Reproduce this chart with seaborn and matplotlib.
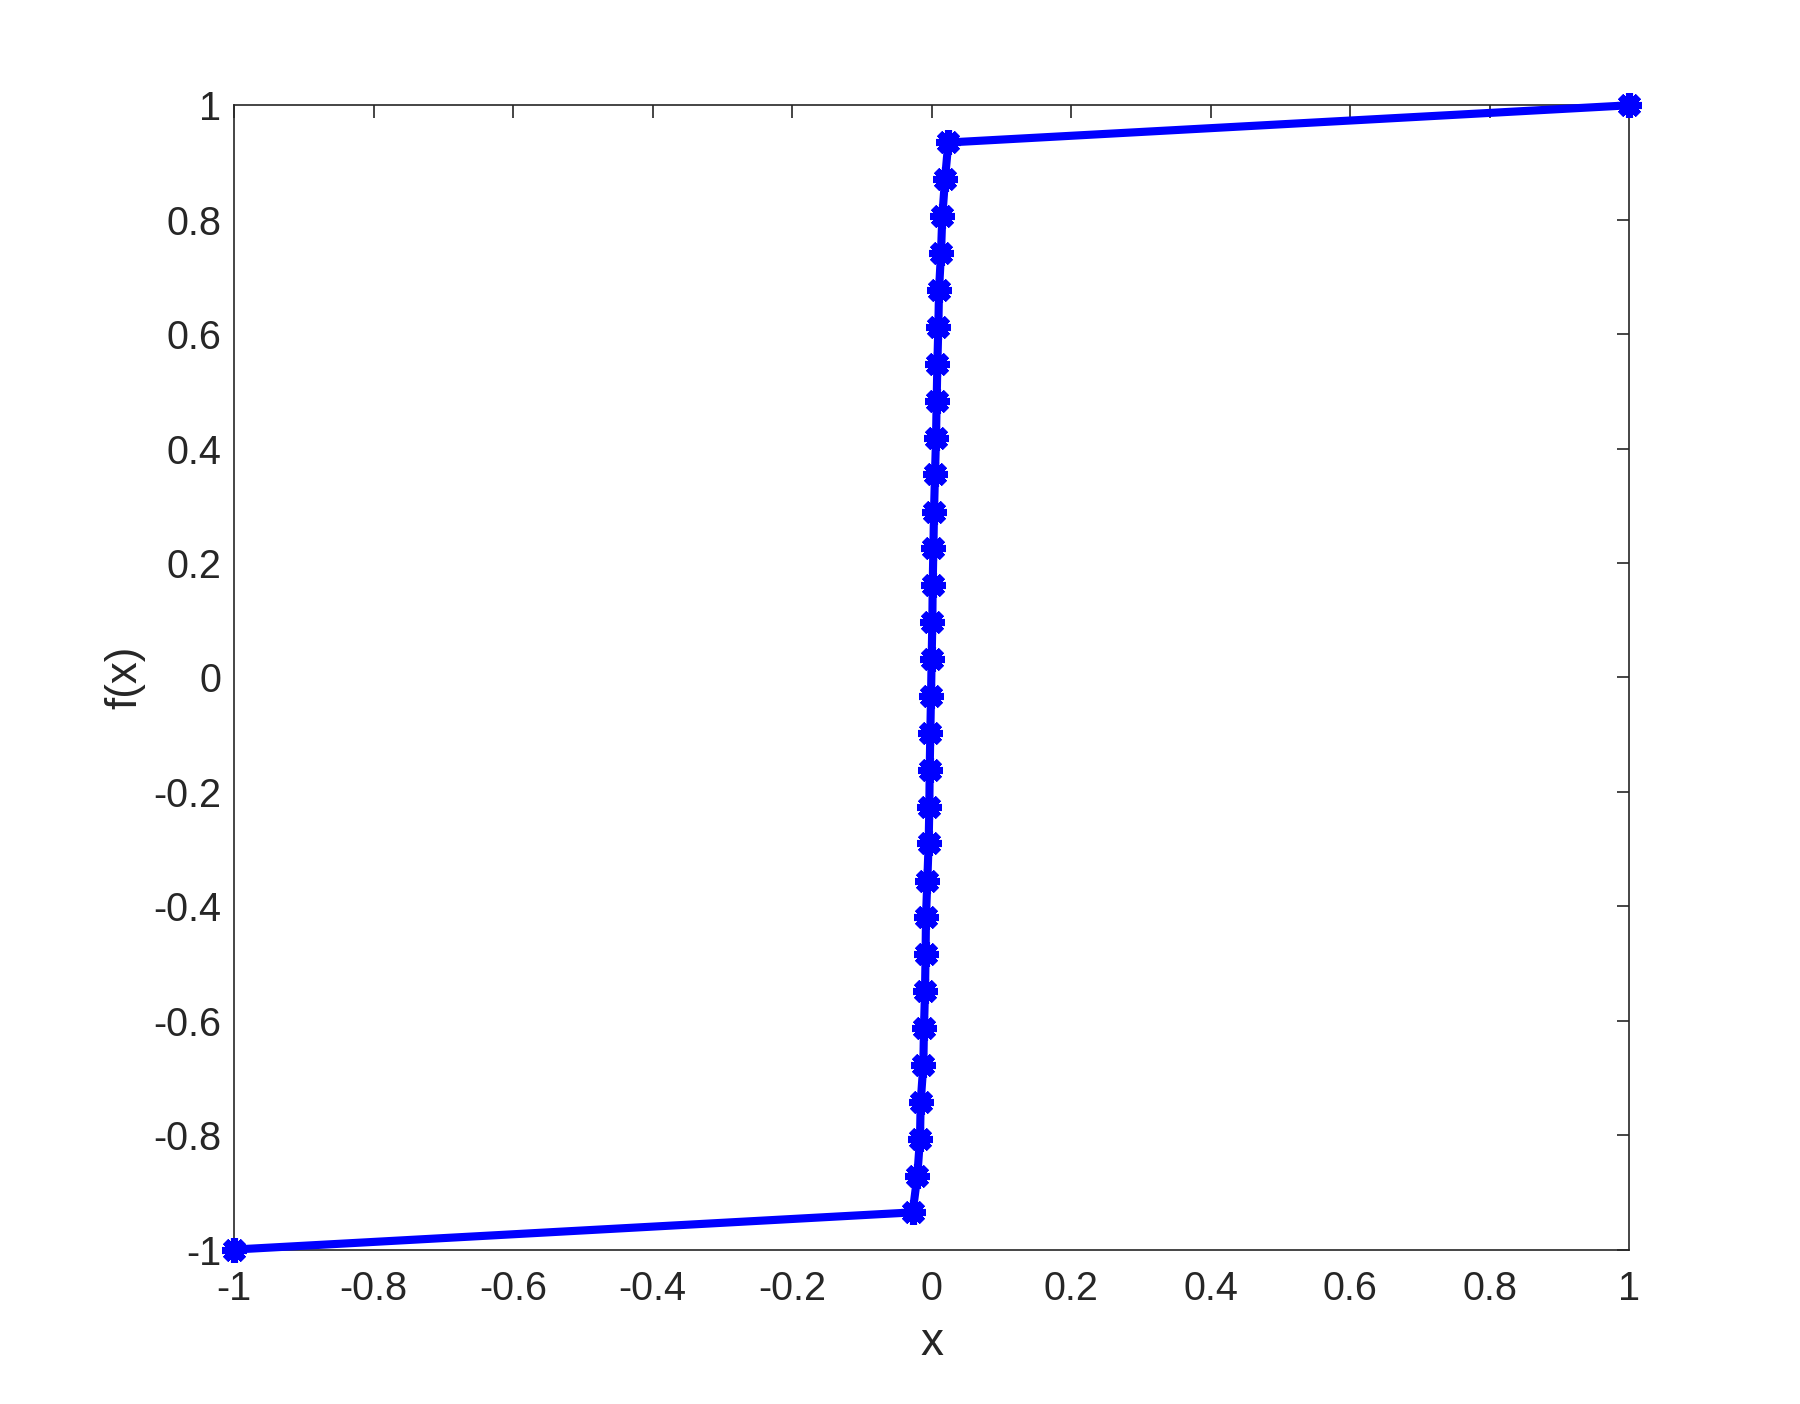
import numpy as np
import pandas as pd
import matplotlib
matplotlib.use("Agg")
import matplotlib.pyplot as plt
import seaborn as sns

# values (32 points)
x_vals = [-1.0, -0.0270, -0.0203, -0.0165, -0.0155, -0.0117, -0.0108, -0.0093,
          -0.0085, -0.0079, -0.0060, -0.0041, -0.0031, -0.0026, -0.0017, -0.0007,
          0.0002, 0.0012, 0.0017, 0.0027, 0.0036, 0.0050, 0.0065, 0.0074,
          0.0084, 0.0098, 0.0108, 0.0136, 0.0155, 0.0194, 0.0241, 1.0]
y_vals = [-1.0, -0.935, -0.871, -0.806, -0.742, -0.677, -0.613, -0.548,
          -0.484, -0.419, -0.355, -0.290, -0.226, -0.161, -0.097, -0.032,
          0.032, 0.097, 0.161, 0.226, 0.290, 0.355, 0.419, 0.484,
          0.548, 0.613, 0.677, 0.742, 0.806, 0.871, 0.935, 1.0]
x_ticks = [-1, -0.8, -0.6, -0.4, -0.2, 0, 0.2, 0.4, 0.6, 0.8, 1]
y_ticks = [-1, -0.8, -0.6, -0.4, -0.2, 0, 0.2, 0.4, 0.6, 0.8, 1]

df = pd.DataFrame({'x': x_vals, 'y': y_vals})

sns.set_style("white")
plt.rcParams['font.family'] = ['Liberation Sans', 'DejaVu Sans']

fig = plt.figure(figsize=(12, 9.36), dpi=150)
ax = fig.add_axes([0.13, 0.11, 0.775, 0.815])

sns.lineplot(data=df, x='x', y='y', sort=False, estimator=None, ax=ax,
             color=(0, 0, 1), linewidth=3.9, marker=(8, 2, 0),
             markersize=12, markeredgewidth=3.4, markeredgecolor=(0, 0, 1),
             clip_on=False, zorder=3)

ax.set_xlim(-1, 1)
ax.set_ylim(-1, 1)
ax.set_xticks(x_ticks)
ax.set_yticks(y_ticks)
ax.set_xticklabels([f"{t:g}" for t in x_ticks])
ax.set_yticklabels([f"{t:g}" for t in y_ticks])

txt = (0.15, 0.15, 0.15)
ax.tick_params(axis='both', direction='in', length=6, width=0.8,
               top=True, right=True, labelsize=19, colors=txt)
ax.tick_params(axis='x', pad=10)
ax.tick_params(axis='y', pad=6)
for s in ax.spines.values():
    s.set_color(txt)
    s.set_linewidth(0.8)

ax.set_xlabel('x', fontsize=22, color=txt, labelpad=6)
ax.set_ylabel('f(x)', fontsize=21, color=txt, labelpad=4)

fig.savefig('out.png', dpi=150, facecolor='white')
